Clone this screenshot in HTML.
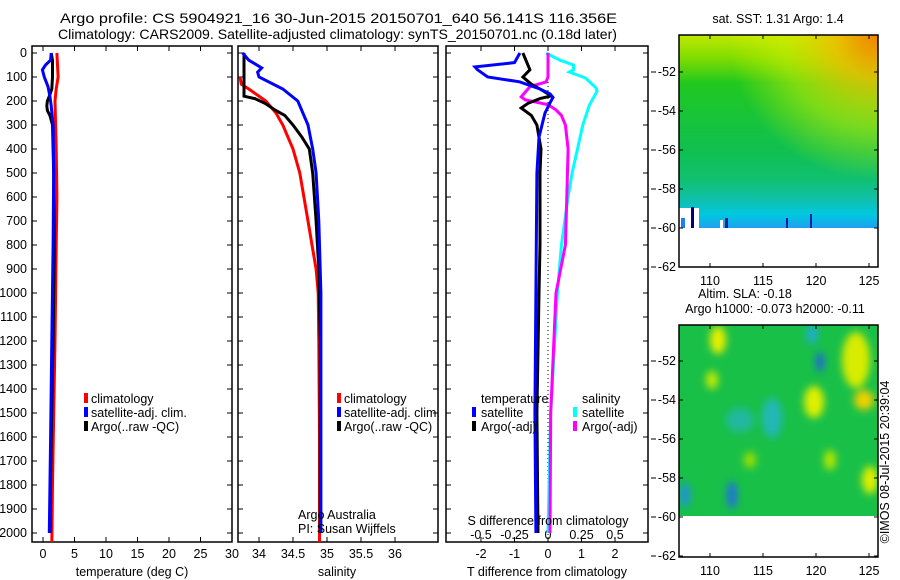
<!DOCTYPE html>
<html><head><meta charset="utf-8">
<style>
html,body{margin:0;padding:0;background:#fff;}
svg{display:block;font-family:"Liberation Sans",sans-serif;font-size:12.5px;}
</style></head>
<body>
<svg id="chart" width="900" height="580" viewBox="0 0 900 580">
<defs>
  <linearGradient id="sstGrad" x1="0" y1="0" x2="0" y2="1">
    <stop offset="0" stop-color="#c0e800"/>
    <stop offset="0.12" stop-color="#80dc00"/>
    <stop offset="0.25" stop-color="#20c820"/>
    <stop offset="0.6" stop-color="#10c050"/>
    <stop offset="0.75" stop-color="#10c070"/>
    <stop offset="0.86" stop-color="#10c0b0"/>
    <stop offset="0.93" stop-color="#00c8e0"/>
    <stop offset="1" stop-color="#20a0f0"/>
  </linearGradient>
  <radialGradient id="sstHot" cx="1" cy="0" r="0.75">
    <stop offset="0" stop-color="#f08000" stop-opacity="1"/>
    <stop offset="0.3" stop-color="#f0c000" stop-opacity="0.85"/>
    <stop offset="0.65" stop-color="#d8f000" stop-opacity="0.5"/>
    <stop offset="1" stop-color="#d8f000" stop-opacity="0"/>
  </radialGradient>
  <filter id="blur3"><feGaussianBlur stdDeviation="4"/></filter>
  <clipPath id="clipSLA"><rect x="679" y="325" width="199" height="191"/></clipPath>
  <clipPath id="clipP1"><rect x="32" y="46" width="200" height="496"/></clipPath>
  <clipPath id="clipP2"><rect x="238" y="46" width="200" height="496"/></clipPath>
  <clipPath id="clipP3"><rect x="446" y="46" width="202" height="496"/></clipPath>
</defs>

<text x="60" y="23" textLength="557" lengthAdjust="spacingAndGlyphs" style="font-size:14px">Argo profile: CS 5904921_16 30-Jun-2015 20150701_640 56.141S 116.356E</text>
<text x="58" y="39" textLength="559" lengthAdjust="spacingAndGlyphs" style="font-size:14px">Climatology: CARS2009. Satellite-adjusted climatology: synTS_20150701.nc (0.18d later)</text>

<g id="p1"></g>
<g id="p2"></g>
<g id="p3"></g>

<g>
  <rect x="84" y="393" width="4" height="10" fill="#f00"/><text x="91" y="403">climatology</text>
  <rect x="84" y="407" width="4" height="10" fill="#00f"/><text x="91" y="417">satellite-adj. clim.</text>
  <rect x="84" y="421" width="4" height="10" fill="#000"/><text x="91" y="431">Argo(..raw -QC)</text>
</g>
<g>
  <rect x="337" y="393" width="4" height="10" fill="#f00"/><text x="344" y="403">climatology</text>
  <rect x="337" y="407" width="4" height="10" fill="#00f"/><text x="344" y="417">satellite-adj. clim.</text>
  <rect x="337" y="421" width="4" height="10" fill="#000"/><text x="344" y="431">Argo(..raw -QC)</text>
</g>
<g>
  <text x="481" y="403">temperature</text>
  <rect x="472" y="407" width="4" height="10" fill="#00f"/><text x="481" y="417">satellite</text>
  <rect x="472" y="421" width="4" height="10" fill="#000"/><text x="481" y="431">Argo(-adj)</text>
  <text x="582" y="403">salinity</text>
  <rect x="573" y="407" width="4" height="10" fill="#0ff"/><text x="582" y="417">satellite</text>
  <rect x="573" y="421" width="4" height="10" fill="#f0f"/><text x="582" y="431">Argo(-adj)</text>
</g>
<text x="298" y="519">Argo Australia</text>
<text x="298" y="533">PI: Susan Wijffels</text>
<text x="548" y="525" text-anchor="middle">S difference from climatology</text>

<text x="132" y="576" text-anchor="middle">temperature (deg C)</text>
<text x="337" y="576" text-anchor="middle">salinity</text>
<text x="547" y="576" text-anchor="middle">T difference from climatology</text>

<g>
  <text x="778" y="23" text-anchor="middle">sat. SST: 1.31 Argo: 1.4</text>
  <rect x="679" y="35" width="199" height="193" fill="url(#sstGrad)"/>
  <rect x="679" y="35" width="199" height="193" fill="url(#sstHot)"/>
  <rect x="679" y="208" width="20" height="20" fill="#fff"/>
  <rect x="681" y="218" width="4" height="10" fill="#2080f0"/>
  <rect x="691" y="207" width="3" height="21" fill="#000080"/>
  <rect x="720" y="220" width="3" height="8" fill="#fff"/>
  <rect x="725" y="218" width="3" height="10" fill="#0020a0"/>
  <rect x="786" y="218" width="2" height="10" fill="#0020a0"/>
  <rect x="810" y="214" width="2" height="14" fill="#0020a0"/>
  <g id="sstAxes"></g>
  <text x="745" y="298" text-anchor="middle">Altim. SLA: -0.18</text>
  <text x="775" y="313" text-anchor="middle">Argo h1000: -0.073 h2000: -0.11</text>
</g>
<g>
  <rect x="679" y="325" width="199" height="191" fill="#18c048"/>
  <g clip-path="url(#clipSLA)" filter="url(#blur3)">
    <ellipse cx="718" cy="340" rx="8" ry="14" fill="#e8f000"/>
    <ellipse cx="712" cy="380" rx="6" ry="9" fill="#c8ec00"/>
    <ellipse cx="812" cy="334" rx="5" ry="10" fill="#20a8e0"/>
    <ellipse cx="820" cy="362" rx="4" ry="10" fill="#2060e0"/>
    <ellipse cx="856" cy="360" rx="14" ry="28" fill="#d8ec00"/>
    <ellipse cx="864" cy="400" rx="10" ry="10" fill="#f0d000"/>
    <ellipse cx="814" cy="402" rx="10" ry="16" fill="#e0f000"/>
    <ellipse cx="772" cy="418" rx="10" ry="20" fill="#20b8b8"/>
    <ellipse cx="740" cy="420" rx="14" ry="12" fill="#20b8a0"/>
    <ellipse cx="732" cy="495" rx="5" ry="14" fill="#2070e0"/>
    <ellipse cx="685" cy="495" rx="5" ry="12" fill="#2090e0"/>
    <ellipse cx="870" cy="480" rx="8" ry="14" fill="#e0f000"/>
    <ellipse cx="830" cy="460" rx="6" ry="10" fill="#b8e800"/>
    <ellipse cx="750" cy="460" rx="6" ry="8" fill="#a0e000"/>
  </g>
  <g id="slaAxes"></g>
</g>
<text transform="translate(889,462) rotate(-90)" text-anchor="middle">©IMOS 08-Jul-2015 20:39:04</text>

<script>
const depthTicks = [0,100,200,300,400,500,600,700,800,900,1000,1100,1200,1300,1400,1500,1600,1700,1800,1900,2000];
const tempTicks = [0,5,10,15,20,25,30];
const salTicks = [34,34.5,35,35.5,36];
const salTickLabels = ["34","34.5","35","35.5","36"];
const tdiffTicks = [-2,-1,0,1,2];
const sdiffTicks = [-0.5,-0.25,0,0.25,0.5];
const sdiffTickLabels = ["-0.5","-0.25","0","0.25","0.5"];

const tClimDepth = [0,50,100,150,200,300,400,600,800,1000,1200,1500,1800,2050];
const tClimVal   = [2.2,2.3,2.4,2.1,1.9,2.0,2.1,2.2,2.1,2.0,1.9,1.7,1.5,1.4];
const tSatDepth  = [0,30,50,70,100,140,180,220,300,500,800,1200,1600,2000];
const tSatVal    = [1.3,1.2,0.4,-0.1,0.2,0.8,1.1,1.3,1.6,1.7,1.6,1.4,1.2,1.0];
const tArgoDepth = [0,30,100,150,180,200,220,240,260,300,500,800,1200,1600,2000];
const tArgoVal   = [1.3,1.5,1.5,1.4,1.0,0.7,0.6,0.7,1.1,1.5,1.7,1.8,1.6,1.3,1.1];

const sClimDepth = [100,130,150,200,250,300,400,500,600,700,800,900,1000,1200,1600,2050];
const sClimVal   = [33.72,33.74,33.85,34.10,34.25,34.35,34.50,34.60,34.66,34.72,34.78,34.84,34.87,34.88,34.89,34.89];
const sSatDepth  = [0,30,62,80,100,150,200,300,400,500,700,1000,1500,2000];
const sSatVal    = [33.76,33.85,34.04,33.98,34.00,34.35,34.57,34.72,34.79,34.84,34.88,34.91,34.91,34.91];
const sArgoDepth = [0,180,190,210,240,260,300,350,400,500,700,900,1200,1600,2000];
const sArgoVal   = [33.78,33.78,33.94,34.09,34.25,34.38,34.50,34.63,34.74,34.79,34.84,34.88,34.90,34.90,34.90];

const dTSatDepth = [0,40,58,70,100,120,150,170,185,200,250,350,500,1000,1500,2000];
const dTSatVal   = [-0.84,-1.0,-2.18,-2.1,-1.8,-0.85,-0.24,0.06,0.15,0.09,-0.09,-0.27,-0.33,-0.36,-0.39,-0.36];
const dTArgoDepth = [0,50,70,100,130,150,170,180,190,210,229,260,300,400,500,800,1000,1500,2000];
const dTArgoVal   = [-0.75,-0.6,-0.54,-0.75,-0.5,-0.24,0.0,0.06,-0.24,-0.6,-0.8,-0.5,-0.33,-0.21,-0.24,-0.24,-0.27,-0.33,-0.30];
const dSArgoDepth = [0,100,121,140,183,195,215,237,260,300,400,600,800,1000,1500,2000];
const dSArgoVal   = [0.0,0.0,-0.015,-0.134,-0.20,-0.17,0.0,0.06,0.10,0.13,0.15,0.14,0.13,0.06,0.02,0.015];
const dSSatDepth  = [0,30,50,70,79,104,146,160,216,300,400,500,600,800,1000,1500,2000];
const dSSatVal    = [-0.015,0.09,0.19,0.19,0.16,0.28,0.36,0.366,0.31,0.26,0.22,0.18,0.15,0.10,0.07,0.02,0.0];

const latTicks = [-52,-54,-56,-58,-60,-62];
const lonTicks = [110,115,120,125];

const NS = "http://www.w3.org/2000/svg";
const top0 = 53, bot = 542;
const yD = d => top0 + d * 0.24;
const xT = t => 43 + t * 6.3;
const xS = s => 259 + (s - 34) * 68;
const xDT = d => 548 + d * 33.5;
const xDS = d => 548 + d * 134;
const lonX = lo => 710 + (lo - 110) * 10.6;
const latYTop = la => 72 + (-52 - la) * 19.5;
const latYBot = la => 361 + (-52 - la) * 19.5;

function el(tag, attrs, parent, text) {
  const e = document.createElementNS(NS, tag);
  for (const k in attrs) e.setAttribute(k, attrs[k]);
  if (text !== undefined) e.textContent = text;
  parent.appendChild(e);
  return e;
}
function line(p, x1, y1, x2, y2, extra) {
  return el('line', Object.assign({x1, y1, x2, y2, stroke: '#000', 'stroke-width': 1}, extra || {}), p);
}
function frame(g, x0, x1) {
  const r = el('rect', {x: x0, y: 46, width: x1 - x0, height: bot - 46, fill: 'none', stroke: '#000', 'stroke-width': 1.5}, g);
  
  
  depthTicks.forEach(d => {
    line(g, x0, yD(d), x0 + 5, yD(d));
    line(g, x1 - 5, yD(d), x1, yD(d));
  });
}
function xTicks(g, vals, fx, labels, ylab) {
  vals.forEach((v, i) => {
    const x = fx(v);
    line(g, x, 46, x, 51);
    line(g, x, bot - 5, x, bot);
    if (labels) {
      const t = el('text', {x: x, y: ylab, 'text-anchor': 'middle'}, g, labels[i]);
      
      
    }
  });
}
function series(g, depths, vals, fx, color, clip, name) {
  const pts = depths.map((d, i) => fx(vals[i]).toFixed(1) + ',' + yD(d).toFixed(1)).join(' ');
  const pl = el('polyline', {points: pts, fill: 'none', stroke: color, 'stroke-width': 3, 'clip-path': clip}, g);
  
  
}

const p1 = document.getElementById('p1');
frame(p1, 32, 232);
xTicks(p1, tempTicks, xT, tempTicks.map(String), 558);
depthTicks.forEach(d => {
  const t = el('text', {x: 27, y: yD(d) + 4, 'text-anchor': 'end'}, p1, String(d));
  
  
});
series(p1, tClimDepth, tClimVal, xT, '#f00', 'url(#clipP1)', 'temp-climatology-line');
series(p1, tArgoDepth, tArgoVal, xT, '#000', 'url(#clipP1)', 'temp-argo-line');
series(p1, tSatDepth, tSatVal, xT, '#00f', 'url(#clipP1)', 'temp-satellite-line');

const p2 = document.getElementById('p2');
frame(p2, 238, 438);
xTicks(p2, salTicks, xS, salTickLabels, 558);
series(p2, sClimDepth, sClimVal, xS, '#f00', 'url(#clipP2)', 'sal-climatology-line');
series(p2, sArgoDepth, sArgoVal, xS, '#000', 'url(#clipP2)', 'sal-argo-line');
series(p2, sSatDepth, sSatVal, xS, '#00f', 'url(#clipP2)', 'sal-satellite-line');

const p3 = document.getElementById('p3');
frame(p3, 446, 648);
xTicks(p3, tdiffTicks, xDT, tdiffTicks.map(String), 558);
sdiffTicks.forEach((v, i) => {
  const t = el('text', {x: xDS(v), y: 539, 'text-anchor': 'middle'}, p3, sdiffTickLabels[i]);
  
  
});
const zl = line(p3, xDT(0), 46, xDT(0), bot, {'stroke-dasharray': '1,3'});


series(p3, dSSatDepth, dSSatVal, xDS, '#0ff', 'url(#clipP3)', 'sdiff-satellite-line');
series(p3, dSArgoDepth, dSArgoVal, xDS, '#f0f', 'url(#clipP3)', 'sdiff-argo-line');
series(p3, dTArgoDepth, dTArgoVal, xDT, '#000', 'url(#clipP3)', 'tdiff-argo-line');
series(p3, dTSatDepth, dTSatVal, xDT, '#00f', 'url(#clipP3)', 'tdiff-satellite-line');

function mapAxes(gid, y0, y1, latY, lonLabY) {
  const g = document.getElementById(gid);
  const r = el('rect', {x: 679, y: y0, width: 199, height: y1 - y0, fill: 'none', stroke: '#000', 'stroke-width': 1.5}, g);
  
  
  latTicks.forEach(la => {
    const y = latY(la);
    line(g, 679, y, 683, y);
    line(g, 874, y, 878, y);
    line(g, 651, y, 656, y);
    const t = el('text', {x: 676, y: y + 4, 'text-anchor': 'end'}, g, String(la));
    
    
  });
  lonTicks.forEach(lo => {
    const x = lonX(lo);
    line(g, x, y0, x, y0 + 4);
    line(g, x, y1 - 4, x, y1);
    const t = el('text', {x: x, y: lonLabY, 'text-anchor': 'middle'}, g, String(lo));
    
    
  });
}
mapAxes('sstAxes', 35, 267, latYTop, 285);
mapAxes('slaAxes', 325, 557, latYBot, 575);
</script>
</svg>
</body></html>
